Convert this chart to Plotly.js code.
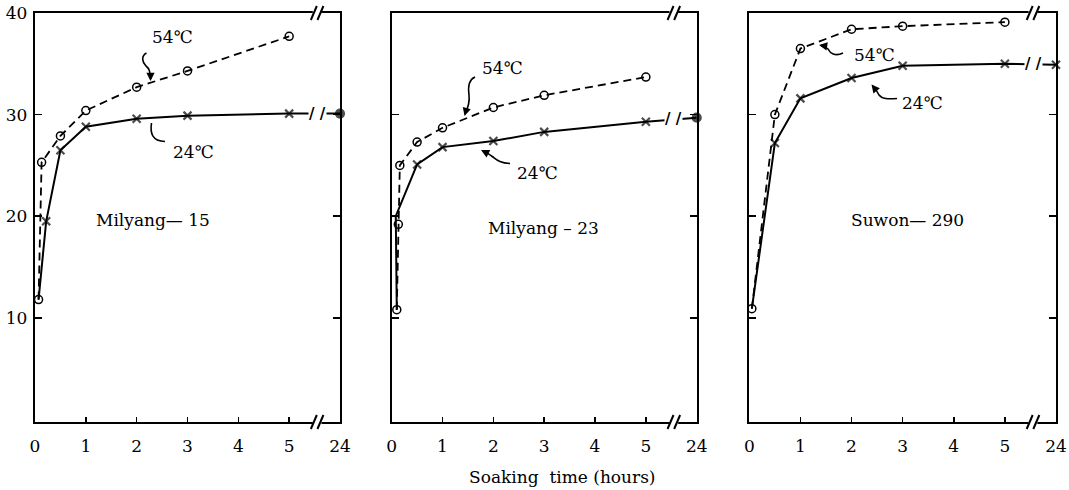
<!DOCTYPE html>
<html>
<head>
<meta charset="utf-8">
<script src="https://cdn.plot.ly/plotly-3.0.1.min.js"></script>
<style>
  html, body { margin: 0; padding: 0; background: #fff; }
  #chart { width: 1069px; height: 490px; }
</style>
</head>
<body>
<div id="chart"></div>
<script>
// ---------------- data ----------------
const tickHours  = [0, 1, 2, 3, 4, 5, 24];
const tickLabels = ['0', '1', '2', '3', '4', '5', '24'];

const panelNames = ['Milyang\u2014 15', 'Milyang \u2013 23', 'Suwon\u2014 290'];
const seriesNames = ['54\u2103', '24\u2103'];

// Milyang-15
const hoursM15_54 = [0.07, 0.13, 0.5, 1, 2, 3, 5];
const moistM15_54 = [11.8, 25.3, 27.9, 30.4, 32.7, 34.3, 37.7];
const hoursM15_24 = [0.07, 0.22, 0.5, 1, 2, 3, 5, 24];
const moistM15_24 = [11.8, 19.5, 26.5, 28.8, 29.6, 29.9, 30.1, 30.1];

// Milyang-23
const hoursM23_54 = [0.1, 0.13, 0.16, 0.5, 1, 2, 3, 5];
const moistM23_54 = [10.8, 19.2, 25.0, 27.3, 28.7, 30.7, 31.9, 33.7];
const hoursM23_24 = [0.1, 0.08, 0.5, 1, 2, 3, 5, 24];
const moistM23_24 = [10.8, 20.0, 25.1, 26.8, 27.4, 28.3, 29.3, 29.7];

// Suwon-290
const hoursS290_54 = [0.05, 0.5, 1, 2, 3, 5];
const moistS290_54 = [10.9, 30.0, 36.5, 38.4, 38.7, 39.1];
const hoursS290_24 = [0.05, 0.5, 1, 2, 3, 5, 24];
const moistS290_24 = [10.9, 27.2, 31.6, 33.6, 34.8, 35.0, 34.9];

// ---------------- broken time axis: 0..5 h linear, then 24 h ----------------
const LAST_LINEAR = 5, BREAK_POS = 5.55, END_POS = 6;
const pos = h => (h <= LAST_LINEAR ? h : END_POS);
const Y_RANGE = [-0.25, 40];

// ---------------- page geometry helpers (layout only) ----------------
const W = 1069, H = 490, MT = 13, MB = 68;
const PH = H - MT - MB;
const X = px => px / W;
const Y = py => (H - MB - py) / PH;

const BLACK = '#000';
const SERIF = 'DejaVu Serif, Liberation Serif, Noto Sans CJK JP, serif';

const panels = [
  {xa: 'x',  ya: 'y',  h54: hoursM15_54,  v54: moistM15_54,  h24: hoursM15_24,  v24: moistM15_24,  end24: 'circle',      hide24: 1},
  {xa: 'x2', ya: 'y2', h54: hoursM23_54,  v54: moistM23_54,  h24: hoursM23_24,  v24: moistM23_24,  end24: 'circle',      hide24: 2},
  {xa: 'x3', ya: 'y3', h54: hoursS290_54, v54: moistS290_54, h24: hoursS290_24, v24: moistS290_24, end24: 'x-thin-open', hide24: 1}
];

const traces = [];
panels.forEach(p => {
  traces.push({
    type: 'scatter', mode: 'lines+markers', name: seriesNames[0],
    x: p.h54.map(pos), y: p.v54, xaxis: p.xa, yaxis: p.ya, cliponaxis: false,
    line: {color: BLACK, width: 1.8, dash: '8px,5px'},
    marker: {symbol: 'circle-open', size: 8, color: BLACK, line: {color: BLACK, width: 1.5}},
    showlegend: false, hoverinfo: 'x+y'
  });
  traces.push({
    type: 'scatter', mode: 'lines+markers', name: seriesNames[1],
    x: p.h24.map(pos), y: p.v24, xaxis: p.xa, yaxis: p.ya, cliponaxis: false,
    line: {color: BLACK, width: 2},
    marker: {
      symbol: p.h24.map(h => (h > LAST_LINEAR ? p.end24 : 'x-thin-open')),
      size: p.h24.map((h, i) => (i < p.hide24 ? 0 : 8)),
      color: BLACK, line: {color: BLACK, width: 2.2}
    },
    showlegend: false, hoverinfo: 'x+y'
  });
});

// ---------------- axes ----------------
const xDomains = [[35 / W, 340 / W], [391.7 / W, 696.7 / W], [749.3 / W, 1056 / W]];
const xBase = {
  range: [0, END_POS], tickmode: 'array',
  tickvals: tickHours.map(pos), ticktext: tickLabels,
  ticks: 'inside', ticklen: 5, tickwidth: 1.6, tickcolor: BLACK,
  showline: true, linecolor: BLACK, linewidth: 2.2, mirror: true,
  showgrid: false, zeroline: false, ticklabelstandoff: 7,
  tickfont: {family: SERIF, size: 17, color: BLACK}, fixedrange: true
};
const yBase = {
  range: Y_RANGE, tickmode: 'array', tickvals: [10, 20, 30, 40],
  ticks: 'inside', ticklen: 7, tickwidth: 1.6, tickcolor: BLACK,
  showline: true, linecolor: BLACK, linewidth: 2.2, mirror: 'ticks',
  showgrid: false, zeroline: false, ticklabelstandoff: 2,
  tickfont: {family: SERIF, size: 17, color: BLACK}, fixedrange: true
};

const layout = {
  width: W, height: H,
  margin: {l: 0, r: 0, t: MT, b: MB, pad: 0},
  paper_bgcolor: '#fff', plot_bgcolor: '#fff',
  showlegend: false,
  xaxis:  Object.assign({}, xBase, {domain: xDomains[0], anchor: 'y'}),
  xaxis2: Object.assign({}, xBase, {domain: xDomains[1], anchor: 'y2'}),
  xaxis3: Object.assign({}, xBase, {domain: xDomains[2], anchor: 'y3'}),
  yaxis:  Object.assign({}, yBase, {domain: [0, 1], anchor: 'x'}),
  yaxis2: Object.assign({}, yBase, {domain: [0, 1], anchor: 'x2', showticklabels: false}),
  yaxis3: Object.assign({}, yBase, {domain: [0, 1], anchor: 'x3', showticklabels: false}),
  shapes: [],
  annotations: []
};

// ---------------- break marks ("//") on the frame ----------------
function breakMark(xa, ya, yfrac, gapW) {
  const yref = ya + ' domain';
  layout.shapes.push({type: 'line', layer: 'above', xref: xa, yref: yref,
    x0: BREAK_POS - 0.085, x1: BREAK_POS + 0.085, y0: yfrac, y1: yfrac,
    line: {color: '#fff', width: gapW}});
  [BREAK_POS - 0.065, BREAK_POS + 0.065].forEach(xc => {
    layout.shapes.push({type: 'line', layer: 'above', xref: xa, yref: yref,
      xsizemode: 'pixel', xanchor: xc, x0: -3, x1: 3,
      ysizemode: 'pixel', yanchor: yfrac, y0: -7, y1: 7,
      line: {color: BLACK, width: 2}});
  });
}
panels.forEach(p => {
  breakMark(p.xa, p.ya, 0, 5);
  breakMark(p.xa, p.ya, 1, 5);
  // break mark on the 24 deg C line between 5 h and 24 h
  const n = p.h24.length;
  const va = p.v24[n - 2], vb = p.v24[n - 1];
  const yv = va + (vb - va) * (BREAK_POS - LAST_LINEAR) / (END_POS - LAST_LINEAR);
  layout.annotations.push({xref: p.xa, yref: p.ya, x: BREAK_POS, y: yv,
    text: '/ /', showarrow: false, bgcolor: '#fff', borderpad: 0,
    xanchor: 'center', yanchor: 'middle',
    font: {family: 'DejaVu Sans, sans-serif', size: 15, color: BLACK, weight: 'bold'}});
});

// ---------------- text labels ----------------
function label(text, px, py, size) {
  layout.annotations.push({text: text, x: X(px), y: Y(py), xref: 'paper', yref: 'paper',
    xanchor: 'center', yanchor: 'middle', showarrow: false,
    font: {family: SERIF, size: size || 17, color: BLACK}});
}
label(panelNames[0], 153, 220);
label(panelNames[1], 543, 228);
label(panelNames[2], 907, 220);

label(seriesNames[0], 172, 37);
label(seriesNames[1], 193, 152);
label(seriesNames[0], 502, 68);
label(seriesNames[1], 537, 173);
label(seriesNames[0], 874, 55);
label(seriesNames[1], 922, 103);

label('Soaking  time (hours)', 562, 477);

// ---------------- curly pointer lines ----------------
function curve(pts) {   // pts: start + groups of 3 cubic control points, pixels -> paper
  let d = 'M' + X(pts[0][0]) + ',' + Y(pts[0][1]);
  for (let i = 1; i + 2 < pts.length; i += 3) {
    d += ' C' + [pts[i], pts[i + 1], pts[i + 2]].map(q => X(q[0]) + ',' + Y(q[1])).join(' ');
  }
  layout.shapes.push({type: 'path', xref: 'paper', yref: 'paper', path: d,
    line: {color: BLACK, width: 1.6}, layer: 'above'});
}
function head(px, py, ax, ay) {
  layout.annotations.push({x: X(px), y: Y(py), xref: 'paper', yref: 'paper', text: '',
    showarrow: true, arrowhead: 2, arrowsize: 1.1, arrowwidth: 1.5, arrowcolor: BLACK,
    ax: ax, ay: ay});
}
// panel 1
curve([[146.5, 53], [141, 56], [142, 62], [146, 66], [150, 69], [150, 73], [150.5, 79]]);
head(150.5, 81, 0, -6);
curve([[151.5, 123], [150, 133], [152, 141], [165, 141.5]]);
// panel 2
curve([[475, 77], [468, 80], [468, 88], [469, 95], [470, 103], [468, 108], [465, 114]]);
head(464.5, 116, 2, -7);
curve([[510, 163.5], [500, 163], [497, 160], [493, 157], [489, 154], [486, 152], [483, 151]]);
head(481, 150, 6, 3);
// panel 3
curve([[843, 53], [835, 57], [830, 53], [828, 49], [826, 47], [824, 46], [821, 45.5]]);
head(819, 45, 6, 1);
curve([[897, 98.5], [888, 99], [882, 99], [879, 95], [877, 91], [875, 88], [873, 86]]);
head(871.5, 84.5, 4, 5);

Plotly.newPlot('chart', traces, layout, {staticPlot: true, displayModeBar: false});
</script>
</body>
</html>
